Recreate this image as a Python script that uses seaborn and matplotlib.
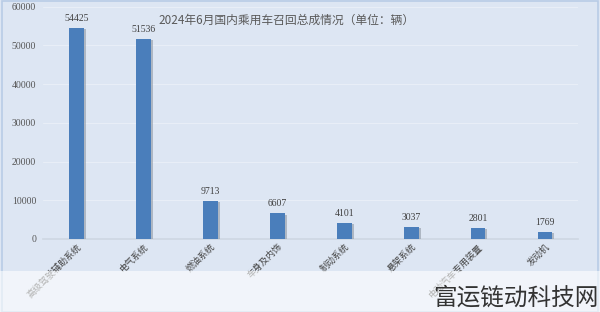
import matplotlib
matplotlib.use("Agg")
import matplotlib.pyplot as plt
import matplotlib.patheffects as pe
from matplotlib.patches import Rectangle
import seaborn as sns
import pandas as pd

categories = ["高级驾驶辅助系统", "电气系统", "燃油系统", "车身及内饰",
              "制动系统", "悬架系统", "电动汽车专用装置", "发动机"]
values = [54425, 51536, 9713, 6607, 4101, 3037, 2801, 1769]
y_ticks = [0, 10000, 20000, 30000, 40000, 50000, 60000]

df = pd.DataFrame({"system": categories, "count": values})

sns.set_theme(style="white")
plt.rcParams['font.family'] = ['Noto Sans CJK SC', 'DejaVu Sans']

bg = "#dde6f3"
fig = plt.figure(figsize=(6, 3.12), dpi=100, facecolor=bg)
ax = fig.add_axes([0.072, 0.234, 0.892, 0.745])
ax.set_facecolor(bg)

sns.barplot(data=df, x="system", y="count", color="#4a7ebb", width=0.22,
            saturation=1, linewidth=0, edgecolor="none", ax=ax, zorder=3)
for p in ax.patches:
    p.set_path_effects([pe.SimplePatchShadow(offset=(1.5, -0.8), shadow_rgbFace="#8f98a3", alpha=0.6),
                        pe.Normal()])

for i, v in enumerate(values):
    ax.text(i, v + 1400, str(v), ha="center", va="bottom", fontsize=7,
            family="Liberation Serif", color="#404040")

ax.set_ylim(0, 60000)
ax.set_xlim(-0.5, len(categories) - 0.5)
ax.set_yticks(y_ticks)
ax.set_yticklabels([str(t) for t in y_ticks], family="Liberation Serif",
                   fontsize=7, color="#555555")
ax.yaxis.grid(True, color="#e8eef7", linewidth=0.8, zorder=0)
ax.tick_params(axis="y", length=0, pad=5)
ax.tick_params(axis="x", length=0, pad=2)
ax.set_xticks(range(len(categories)))
ax.set_xticklabels(categories, rotation=45, ha="right", rotation_mode="anchor",
                   fontsize=6.5, color="#444444")
for s in ["top", "right", "left"]:
    ax.spines[s].set_visible(False)
ax.spines["bottom"].set_color("#cfd8e3")
ax.set_xlabel("")
ax.set_ylabel("")

fig.text(0.477, 0.935, "2024年6月国内乘用车召回总成情况（单位：辆）", ha="center",
         va="center", fontsize=8.5, color="#595959")

# watermark strip and text
fig.patches.append(Rectangle((0, 0), 1, 0.13, transform=fig.transFigure,
                             facecolor="white", alpha=0.6, edgecolor="none", zorder=5))
fig.text(0.998, 0.045, "富运链动科技网", ha="right", va="center", fontsize=17,
         color="#333333", zorder=6)
fig.patches.append(Rectangle((0.004, 0.0), 0.992, 0.996, transform=fig.transFigure,
                             facecolor="none", edgecolor="#b8cce6", linewidth=1.2, zorder=4))

fig.savefig("out.png", dpi=100, facecolor=bg)
